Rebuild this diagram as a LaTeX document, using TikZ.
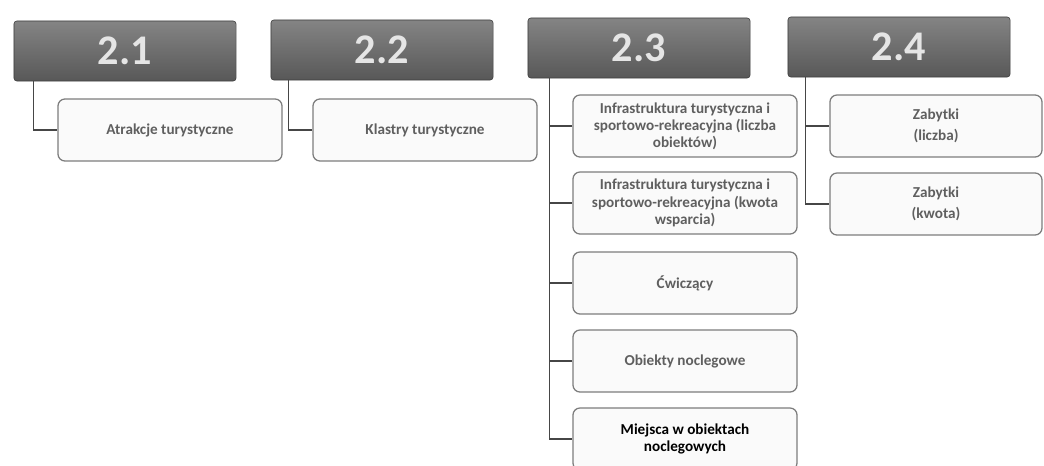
\documentclass[tikz,border=0pt]{standalone}
\usepackage{fontspec}
\setmainfont{Carlito}
\usepackage{tikz}

\definecolor{headtop}{RGB}{132,132,132}
\definecolor{headbot}{RGB}{88,88,88}
\definecolor{boxline}{RGB}{125,125,125}
\definecolor{boxtext}{RGB}{95,95,95}
\definecolor{wireline}{RGB}{70,70,70}

\tikzset{
  headbox/.style={rounded corners=2pt, draw=headbot!70!black, top color=headtop, bottom color=headbot,
    minimum width=5.55cm, minimum height=1.5cm, text=white!90!black, font=\fontsize{30}{30}\selectfont\bfseries},
  itembox/.style={rounded corners=5pt, draw=boxline, line width=0.9pt, fill=white!98!black,
    minimum width=5.6cm, minimum height=1.55cm, align=center, text=boxtext,
    font=\fontsize{10.8}{12.2}\selectfont\bfseries},
  wire/.style={draw=wireline, line width=1pt}
}

\begin{document}
\begin{tikzpicture}[x=0.025cm,y=-0.025cm]

        % Frame
        \useasboundingbox (0,0) rectangle (1044,466);
        \clip (0,0) rectangle (1044,466);
        \fill[white] (0,0) rectangle (1044,466);

        % Headers
        \node[headbox] (h1) at (125,51) {2.1};
        \node[headbox] (h2) at (382,50) {2.2};
        \node[headbox] (h3) at (639,48) {2.3};
        \node[headbox] (h4) at (899,47) {2.4};

        % Column 2.1 and 2.2
        \node[itembox] (a1) at (170,130) {Atrakcje turystyczne};
        \node[itembox] (b1) at (425,130) {Klastry turystyczne};

        % Column 2.3
        \node[itembox] (c1) at (685,126) {Infrastruktura turystyczna i\\sportowo-rekreacyjna (liczba\\obiektów)};
        \node[itembox] (c2) at (685,203) {Infrastruktura turystyczna i\\sportowo-rekreacyjna (kwota\\wsparcia)};
        \node[itembox] (c3) at (685,283) {Ćwiczący};
        \node[itembox] (c4) at (685,361) {Obiekty noclegowe};
        \node[itembox, text=black] (c5) at (685,439) {Miejsca w obiektach\\noclegowych};

        % Column 2.4
        \node[itembox, minimum width=5.3cm] (d1) at (936,126) {Zabytki\\[3pt](liczba)};
        \node[itembox, minimum width=5.3cm] (d2) at (936,204) {Zabytki\\[3pt](kwota)};

        % Wires
        \draw[wire] ([xshift=0.5cm]h1.south west) |- (a1.west);
        \draw[wire] ([xshift=0.45cm]h2.south west) |- (b1.west);
        \draw[wire] ([xshift=0.55cm]h3.south west) |- (c5.west);
        \foreach \n in {c1,c2,c3,c4}
          \draw[wire] ([xshift=0.55cm]h3.south west |- \n.west) -- (\n.west);
        \draw[wire] ([xshift=0.45cm]h4.south west) |- (d2.west);
        \draw[wire] ([xshift=0.45cm]h4.south west |- d1.west) -- (d1.west);

    \end{tikzpicture}
\end{document}
